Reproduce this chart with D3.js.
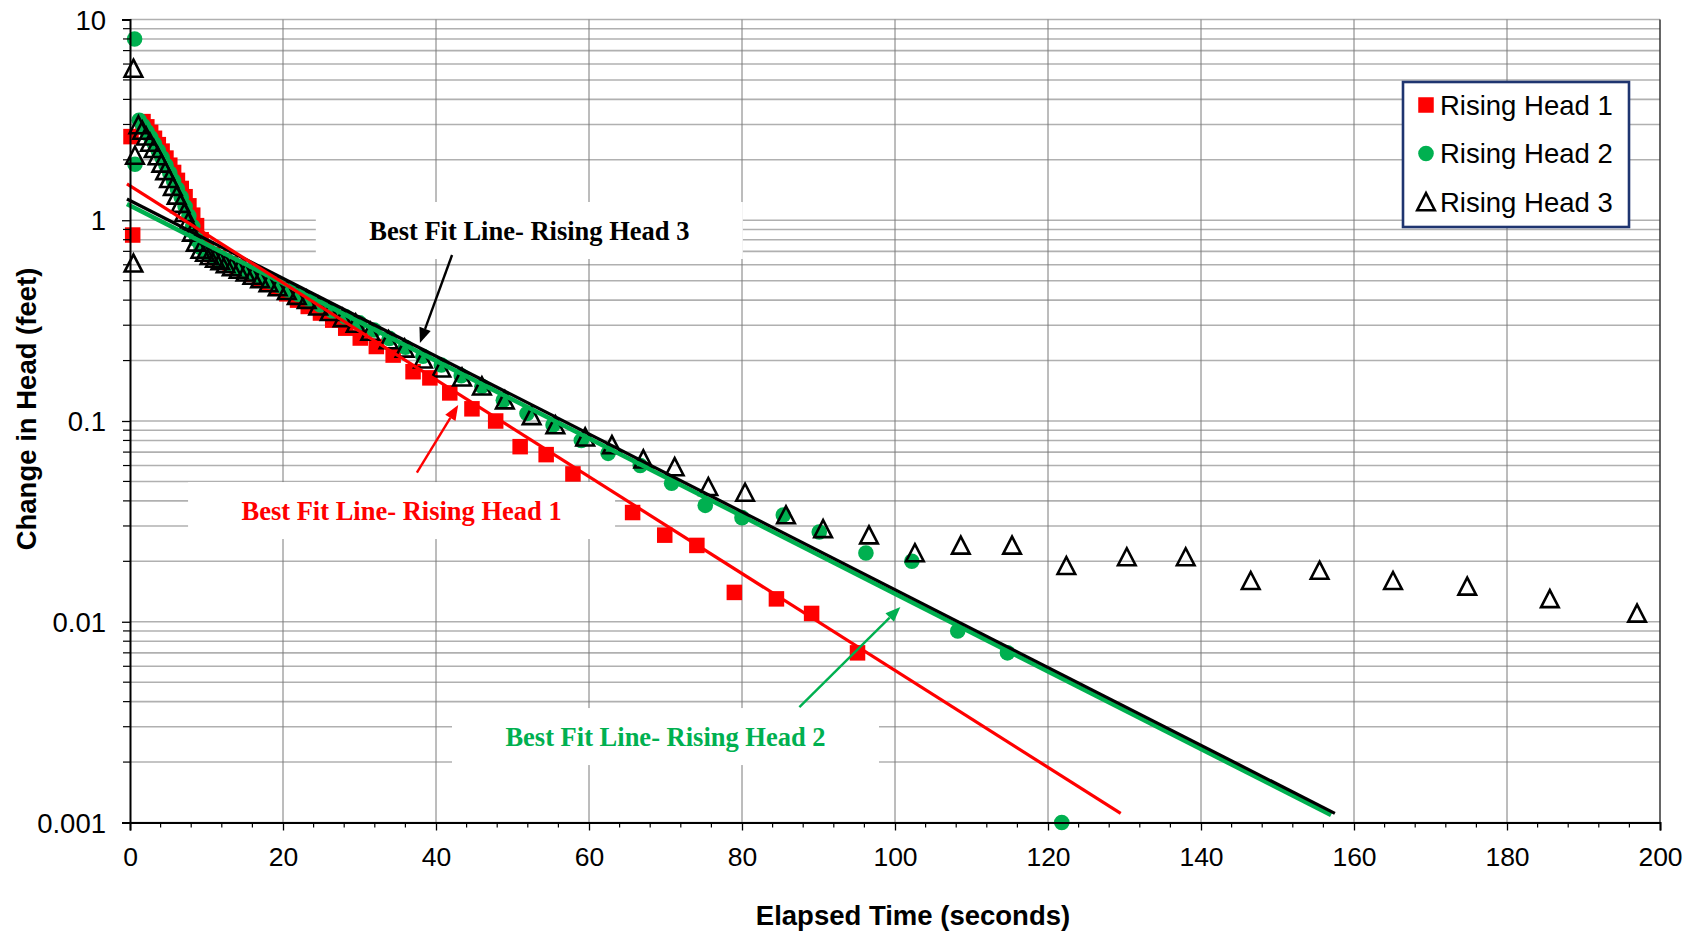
<!DOCTYPE html>
<html><head><meta charset="utf-8">
<script src="https://cdn.jsdelivr.net/npm/d3@7"></script>
<style>html,body{margin:0;padding:0;background:#fff}svg{display:block}</style>
</head><body>
<svg id="c" width="1699" height="935"></svg>
<script>
// ---- data ----
const seriesNames = ["Rising Head 1", "Rising Head 2", "Rising Head 3"];
const xTicks = [0, 20, 40, 60, 80, 100, 120, 140, 160, 180, 200];
const yTicks = [0.001, 0.01, 0.1, 1, 10];
const yTickLabels = ["0.001", "0.01", "0.1", "1", "10"];

const rh1Time = [0.13, 0.35, 1.7, 2.2, 2.7, 3.2, 3.7, 4.2, 4.7, 5.2, 5.7, 6.2, 6.7, 7.2, 7.7, 8.2, 8.7,
  9.3, 10.0, 10.8, 11.5, 12.3, 13.1, 14.0, 14.9, 15.9, 16.9, 18.1, 19.3, 20.5, 21.9, 23.3, 24.9, 26.5, 28.2,
  30.1, 32.2, 34.4, 37.0, 39.2, 41.8, 44.7, 47.8, 51.0, 54.4, 57.9, 65.7, 69.9, 74.1, 79.0, 84.5, 89.1, 95.1];
const rh1Head = [2.61, 0.844, 3.10, 2.92, 2.74, 2.56, 2.38, 2.21, 2.04, 1.88, 1.73, 1.58, 1.44, 1.31, 1.18, 1.06, 0.94,
  0.80, 0.72, 0.675, 0.65, 0.627, 0.607, 0.585, 0.562, 0.538, 0.513, 0.486, 0.458, 0.43, 0.40, 0.372, 0.345, 0.318, 0.29,
  0.259, 0.235, 0.213, 0.176, 0.164, 0.138, 0.115, 0.100, 0.0745, 0.068, 0.0545, 0.035, 0.027, 0.024, 0.014, 0.013, 0.011, 0.007];

const rh2Time = [0.6, 0.65, 1.2, 1.7, 2.2, 2.7, 3.2, 3.7, 4.2, 4.7, 5.2, 5.7, 6.2, 6.7, 7.2, 7.7, 8.2, 8.7,
  9.3, 9.9, 10.5, 11.2, 11.9, 12.7, 13.5, 14.3, 15.2, 16.2, 17.2, 18.3, 19.5, 20.7, 22.0, 23.4, 24.9, 26.5, 28.2, 30.0,
  31.9, 33.9, 36.0, 38.3, 40.7, 43.3, 46.0, 48.8, 51.9, 55.3, 59.0, 62.5, 66.7, 70.8, 75.2, 80.0, 85.4, 90.1, 96.2,
  102.2, 108.2, 114.7, 121.8];
const rh2Head = [8.0, 1.9, 3.15, 2.96, 2.77, 2.58, 2.40, 2.22, 2.05, 1.88, 1.72, 1.57, 1.43, 1.30, 1.17, 1.05, 0.93, 0.80,
  0.73, 0.70, 0.675, 0.655, 0.635, 0.61, 0.595, 0.578, 0.56, 0.537, 0.517, 0.495, 0.472, 0.45, 0.428, 0.405, 0.378, 0.353, 0.33, 0.308,
  0.284, 0.258, 0.233, 0.21, 0.19, 0.168, 0.149, 0.127, 0.109, 0.0955, 0.080, 0.069, 0.060, 0.049, 0.038, 0.033, 0.034, 0.028, 0.022,
  0.020, 0.009, 0.007, 0.001];

const rh3Time = [0.45, 0.45, 0.65, 1.1, 1.6, 2.1, 2.6, 3.1, 3.6, 4.1, 4.6, 5.1, 5.6, 6.1, 6.6, 7.1, 7.6, 8.1, 8.6,
  9.2, 9.8, 10.4, 11.1, 11.8, 12.5, 13.3, 14.2, 15.1, 16.0, 17.0, 18.1, 19.3, 20.5, 21.8, 23.1, 24.6, 26.1, 27.8, 29.5,
  31.4, 33.8, 35.9, 38.3, 40.7, 43.4, 46.0, 49.0, 52.5, 55.6, 59.5, 63.0, 67.1, 71.2,
  75.6, 80.4, 85.75, 90.6, 96.6, 102.6, 108.6, 115.3, 122.4, 130.3, 138.0, 146.5, 155.5, 165.1, 174.8, 185.6, 197.0];
const rh3Head = [5.7, 0.61, 2.1, 2.98, 2.80, 2.62, 2.44, 2.27, 2.09, 1.92, 1.76, 1.61, 1.47, 1.33, 1.21, 1.09, 0.98, 0.87, 0.775,
  0.715, 0.69, 0.665, 0.645, 0.627, 0.605, 0.585, 0.568, 0.55, 0.53, 0.51, 0.487, 0.465, 0.445, 0.421, 0.402, 0.373, 0.35, 0.326, 0.306,
  0.279, 0.253, 0.230, 0.203, 0.183, 0.165, 0.149, 0.127, 0.106, 0.0955, 0.083, 0.076, 0.0645, 0.059,
  0.047, 0.044, 0.034, 0.029, 0.027, 0.022, 0.024, 0.024, 0.019, 0.021, 0.021, 0.016, 0.018, 0.016, 0.015, 0.013, 0.011];

// best fit lines (end points)
const fit1Time = [-0.4, 129.5], fit1Head = [1.516, 0.00111];
const fit2Time = [-0.4, 157.0], fit2Head = [1.205, 0.00109];
const fit3Time = [-0.4, 157.5], fit3Head = [1.276, 0.00111];

// annotations: label, box centre (time, head), arrow start and tip (time, head)
const noteLabels = ["Best Fit Line- Rising Head 3", "Best Fit Line- Rising Head 1", "Best Fit Line- Rising Head 2"];
const noteCentre = [[52.2, 0.889], [35.5, 0.0358], [70.0, 0.00268]];
const arrowFrom = [[42.1, 0.671], [37.5, 0.0553], [87.5, 0.00376]];
const arrowTo = [[37.9, 0.2446], [42.9, 0.120], [100.7, 0.01184]];

// ---- styles ----
const RED = "#ff0000", GREEN = "#00b050", BLACK = "#000000";
const noteColors = [BLACK, RED, GREEN];

const svg = d3.select("#c");
const L = 130, R = 1660, T = 19.5, B = 822.5;
const x = d3.scaleLinear().domain([0, 200]).range([L, R]);
const y = d3.scaleLog().domain([0.001, 10]).range([B, T]);

// horizontal grid (major + minor)
const hGrid = [];
for (let e = -3; e <= 0; e++) for (let m = 1; m <= 9; m++) hGrid.push(m * Math.pow(10, e));
hGrid.push(10);
svg.append("g").selectAll("line").data(hGrid).join("line")
  .attr("x1", L).attr("x2", R).attr("y1", d => y(d)).attr("y2", d => y(d))
  .attr("stroke", "#b0b0b0").attr("stroke-width", 1.6);

// vertical grid
svg.append("g").selectAll("line").data(xTicks.filter(d => d > 0 && d < 200)).join("line")
  .attr("x1", d => x(d)).attr("x2", d => x(d)).attr("y1", T).attr("y2", B)
  .attr("stroke", "#7a7a7a").attr("stroke-width", 1);
// right border
svg.append("line").attr("x1", R).attr("x2", R).attr("y1", T).attr("y2", B)
  .attr("stroke", "#333").attr("stroke-width", 1.5);

// annotation boxes (white)
const boxW = 427, boxH = 57;
svg.append("g").selectAll("rect").data(noteCentre).join("rect")
  .attr("x", d => x(d[0]) - boxW / 2).attr("y", d => y(d[1]) - boxH / 2)
  .attr("width", boxW).attr("height", boxH).attr("fill", "#fff");

// markers
const sq = 15.5, cr = 7.8;
const triPath = "M0,-8.8 L8.8,8.2 L-8.8,8.2 Z";
const pts1 = rh1Time.map((t, i) => [t, rh1Head[i]]);
const pts2 = rh2Time.map((t, i) => [t, rh2Head[i]]);
const pts3 = rh3Time.map((t, i) => [t, rh3Head[i]]);

svg.append("g").selectAll("rect").data(pts1).join("rect")
  .attr("x", d => x(d[0]) - sq / 2).attr("y", d => y(d[1]) - sq / 2)
  .attr("width", sq).attr("height", sq).attr("fill", RED);
svg.append("g").selectAll("circle").data(pts2).join("circle")
  .attr("cx", d => x(d[0])).attr("cy", d => y(d[1])).attr("r", cr).attr("fill", GREEN);
svg.append("g").selectAll("path").data(pts3).join("path")
  .attr("d", triPath).attr("transform", d => `translate(${x(d[0])},${y(d[1])})`)
  .attr("fill", "none").attr("stroke", BLACK).attr("stroke-width", 2.6).attr("stroke-linejoin", "miter");

// fit lines
const line = d3.line().x(d => x(d[0])).y(d => y(d[1]));
const fits = [
  {t: fit2Time, h: fit2Head, c: GREEN, w: 4.5},
  {t: fit3Time, h: fit3Head, c: BLACK, w: 3.2},
  {t: fit1Time, h: fit1Head, c: RED, w: 3.2}
];
fits.forEach(f => {
  svg.append("path").datum(f.t.map((t, i) => [t, f.h[i]])).attr("d", line)
    .attr("fill", "none").attr("stroke", f.c).attr("stroke-width", f.w);
});

// annotation texts
svg.append("g").selectAll("text").data(noteCentre).join("text")
  .attr("x", d => x(d[0])).attr("y", d => y(d[1]) + 9)
  .attr("text-anchor", "middle")
  .attr("font-family", "'Liberation Serif','Times New Roman',serif")
  .attr("font-weight", "bold").attr("font-size", 26.5)
  .attr("fill", (d, i) => noteColors[i])
  .text((d, i) => noteLabels[i]);

// arrows
arrowFrom.forEach((a, i) => {
  const x1 = x(a[0]), y1 = y(a[1]), x2 = x(arrowTo[i][0]), y2 = y(arrowTo[i][1]);
  const ang = Math.atan2(y2 - y1, x2 - x1);
  const hl = 15, hw = 6;
  const bx = x2 - hl * Math.cos(ang), by = y2 - hl * Math.sin(ang);
  svg.append("line").attr("x1", x1).attr("y1", y1).attr("x2", bx).attr("y2", by)
    .attr("stroke", noteColors[i]).attr("stroke-width", 2.4);
  const px = -Math.sin(ang), py = Math.cos(ang);
  svg.append("path")
    .attr("d", `M${x2},${y2} L${bx + px * hw},${by + py * hw} L${bx - px * hw},${by - py * hw} Z`)
    .attr("fill", noteColors[i]);
});

// axes
const xAxis = d3.axisBottom(x).tickValues(xTicks).tickSize(8).tickFormat(d3.format("d"));
const gx = svg.append("g").attr("transform", `translate(0,${B})`).call(xAxis);
gx.select(".domain").attr("stroke", "#000").attr("stroke-width", 2);
gx.selectAll(".tick line").attr("stroke", "#000").attr("stroke-width", 1.3);
gx.selectAll(".tick text").attr("font-family", "'Liberation Sans',Arial,sans-serif")
  .attr("font-size", 26.5).attr("fill", "#000").attr("dy", "1.05em").attr("y", 16);
// x minor ticks
const xMinor = d3.range(0, 201, 4).filter(d => d % 20 !== 0);
svg.append("g").selectAll("line").data(xMinor).join("line")
  .attr("x1", d => x(d)).attr("x2", d => x(d)).attr("y1", B).attr("y2", B + 5)
  .attr("stroke", "#000").attr("stroke-width", 1.2);

const yAxis = d3.axisLeft(y).tickValues(yTicks).tickSize(8).tickFormat((d, i) => yTickLabels[i]);
const gy = svg.append("g").attr("transform", `translate(${L},0)`).call(yAxis);
gy.select(".domain").attr("stroke", "#000").attr("stroke-width", 2);
gy.selectAll(".tick line").attr("stroke", "#000").attr("stroke-width", 1.3);
gy.selectAll(".tick text").attr("font-family", "'Liberation Sans',Arial,sans-serif")
  .attr("font-size", 27.5).attr("fill", "#000").attr("x", -24).attr("dy", "0.35em");
// y minor ticks
svg.append("g").selectAll("line").data(hGrid.filter(d => !yTicks.includes(d))).join("line")
  .attr("x1", L - 7).attr("x2", L).attr("y1", d => y(d)).attr("y2", d => y(d))
  .attr("stroke", "#000").attr("stroke-width", 1.2);

// axis titles
svg.append("text").attr("x", 913).attr("y", 925).attr("text-anchor", "middle")
  .attr("font-family", "'Liberation Sans',Arial,sans-serif").attr("font-weight", "bold")
  .attr("font-size", 27.5).text("Elapsed Time (seconds)");
svg.append("text").attr("transform", "translate(36,409) rotate(-90)").attr("text-anchor", "middle")
  .attr("font-family", "'Liberation Sans',Arial,sans-serif").attr("font-weight", "bold")
  .attr("font-size", 27.5).text("Change in Head (feet)");

// legend
const lg = svg.append("g");
lg.append("rect").attr("x", 1403).attr("y", 82).attr("width", 226).attr("height", 145)
  .attr("fill", "#fff").attr("stroke", "#1f3570").attr("stroke-width", 2.6);
const rowsY = [105, 153.5, 202];
lg.append("rect").attr("x", 1426 - sq / 2).attr("y", rowsY[0] - sq / 2).attr("width", sq).attr("height", sq).attr("fill", RED);
lg.append("circle").attr("cx", 1426).attr("cy", rowsY[1]).attr("r", cr).attr("fill", GREEN);
lg.append("path").attr("d", triPath).attr("transform", `translate(1426,${rowsY[2]})`)
  .attr("fill", "none").attr("stroke", BLACK).attr("stroke-width", 2.6);
lg.selectAll("text").data(seriesNames).join("text")
  .attr("x", 1440).attr("y", (d, i) => rowsY[i] + 9.5)
  .attr("font-family", "'Liberation Sans',Arial,sans-serif").attr("font-size", 27.5)
  .attr("fill", "#000").text(d => d);
</script>
</body></html>
